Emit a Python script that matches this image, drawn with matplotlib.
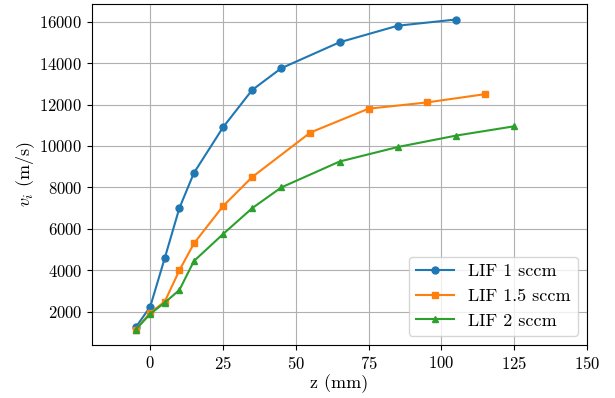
import matplotlib
matplotlib.use("Agg")
import matplotlib.pyplot as plt

plt.rcParams['font.family'] = 'serif'
plt.rcParams['font.serif'] = ['cmr10']
plt.rcParams['mathtext.fontset'] = 'cm'
plt.rcParams['axes.formatter.use_mathtext'] = True
plt.rcParams['axes.unicode_minus'] = False

z1 = [-5, 0, 5, 10, 15, 25, 35, 45, 65, 85, 105]
v1 = [1250, 2250, 4600, 7000, 8700, 10900, 12700, 13750, 15000, 15800, 16100]

z15 = [-5, 0, 5, 10, 15, 25, 35, 55, 75, 95, 115]
v15 = [1150, 1950, 2500, 4000, 5300, 7100, 8500, 10650, 11800, 12100, 12500]

z2 = [-5, 0, 5, 10, 15, 25, 35, 45, 65, 85, 105, 125]
v2 = [1150, 1900, 2450, 3050, 4450, 5750, 7000, 8000, 9250, 9950, 10500, 10950]

labels = ['LIF 1 sccm', 'LIF 1.5 sccm', 'LIF 2 sccm']
xticks = [0, 25, 50, 75, 100, 125, 150]

fig = plt.figure(figsize=(6.15, 3.98), dpi=100)
ax = fig.add_axes([92/615, 1-345/398, (587-92)/615, (345-4)/398])

ax.plot(z1, v1, marker='o', ms=5, color='#1f77b4', label=labels[0])
ax.plot(z15, v15, marker='s', ms=5, color='#ff7f0e', label=labels[1])
ax.plot(z2, v2, marker='^', ms=5, color='#2ca02c', label=labels[2])

ax.set_xlim(-20, 150)
ax.set_xticks(xticks)
ax.grid(True, color='#b0b0b0', linewidth=0.8)
ax.tick_params(labelsize=12)
ax.set_xlabel('z (mm)', fontsize=13, labelpad=1.5)
ax.set_ylabel(r'$v_i$ (m/s)', fontsize=13, labelpad=1.5)
ax.legend(loc='lower right', fontsize=13, handlelength=2.1)

fig.savefig('out.png', dpi=100)
